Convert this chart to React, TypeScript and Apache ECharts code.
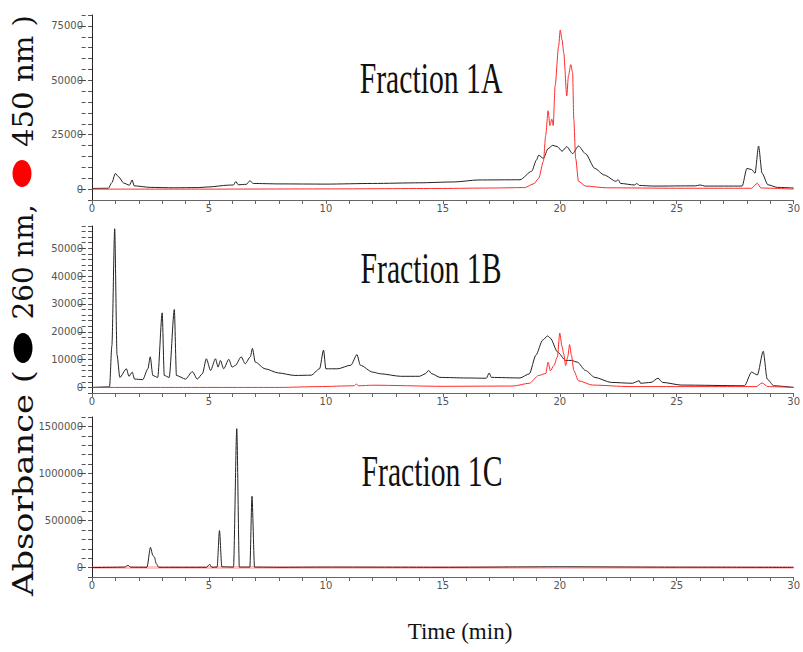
import React, { useEffect, useRef } from "react";
import * as echarts from "echarts";

// Time (min) vs absorbance readings, [time, value]
const a260: number[][] = [
  [0, 300], [0.7, 400], [0.85, 3000], [1.0, 7200], [1.15, 5500], [1.35, 2800], [1.6, 1800], [1.72, 4200], [1.8, 1500],
  [2.5, 800], [3.5, 600], [4.5, 700], [5.0, 1000], [5.8, 1800], [6.05, 1900], [6.15, 3500], [6.25, 2000], [6.6, 2200],
  [6.75, 3800], [6.9, 2600], [8, 2400], [10, 2300], [12, 2600], [14, 2900], [15.5, 3300], [16.5, 4200], [18.3, 4300],
  [18.8, 8200], [19.0, 13300], [19.1, 15600], [19.3, 14100], [19.5, 18600], [19.7, 20100], [19.9, 19500], [20.1, 17400],
  [20.3, 19500], [20.55, 16300], [20.8, 19800], [21.1, 16300], [21.5, 9500], [21.9, 6500], [22.4, 3600], [22.5, 4300],
  [22.6, 2600], [23.2, 1900], [23.3, 2600], [23.4, 1700], [24, 1400], [25.8, 1500], [26, 1900], [26.2, 1400], [27.8, 1400],
  [28.0, 9500], [28.2, 9000], [28.35, 7300], [28.5, 19800], [28.65, 7300], [28.9, 2000], [29.3, 800], [30, 500],
];
const a450: number[][] = [
  [0, 0], [5, 0], [10, 100], [15, 300], [17, 500], [18.5, 700], [18.9, 2500], [19.1, 5000], [19.3, 12700], [19.4, 24700],
  [19.5, 36000], [19.58, 29200], [19.66, 32200], [19.72, 29200], [19.8, 47300], [19.95, 65500], [20.02, 73100],
  [20.1, 68500], [20.17, 62600], [20.3, 42800], [20.37, 51900], [20.47, 57200], [20.55, 53500], [20.6, 32200],
  [20.68, 14100], [20.8, 3600], [21.1, 1400], [22, 600], [25, 400], [28.2, 400], [28.45, 2700], [28.6, 500], [30, 0],
];
const b260: number[][] = [
  [0, 0], [0.75, 200], [0.85, 15000], [0.97, 57000], [1.07, 11700], [1.19, 3600], [1.47, 6700], [1.58, 4000],
  [1.72, 5500], [1.82, 3000], [2.17, 2800], [2.39, 6700], [2.49, 11000], [2.6, 4300], [2.81, 3600], [3.0, 26800],
  [3.09, 4300], [3.3, 3600], [3.52, 28000], [3.61, 4300], [4.0, 3000], [4.29, 5700], [4.5, 3000], [4.72, 4900],
  [4.89, 10300], [5.07, 6100], [5.28, 10300], [5.39, 7300], [5.49, 9700], [5.63, 6700], [5.85, 10100], [5.99, 7300],
  [6.13, 7900], [6.38, 11000], [6.55, 8500], [6.77, 11000], [6.86, 14000], [6.98, 9100], [7.4, 6700], [7.97, 5200],
  [8.67, 4300], [9.37, 4400], [9.73, 6700], [9.9, 13400], [10.0, 6700], [10.5, 6700], [11.07, 8000], [11.33, 11800],
  [11.47, 8000], [12.0, 5500], [12.34, 4900], [13.2, 4000], [14.0, 4000], [14.25, 4900], [14.39, 6100], [14.53, 4900],
  [14.88, 3600], [16.0, 3400], [16.86, 3300], [16.98, 5200], [17.08, 3600], [18.3, 3400], [18.7, 4900], [18.98, 11600],
  [19.27, 17000], [19.48, 18500], [19.6, 17700], [19.9, 12800], [20.25, 9700], [20.5, 9700], [20.75, 9100], [21.1, 6100],
  [21.5, 3600], [22.2, 1800], [23.1, 1500], [23.4, 2400], [23.45, 1500], [23.9, 1800], [24.2, 3300], [24.4, 1800],
  [25.2, 850], [27.9, 600], [28.2, 5500], [28.45, 4500], [28.7, 13000], [28.87, 3000], [29.15, 600], [30, 0],
];
const b450: number[][] = [
  [0, 0], [8, 0], [9.7, 300], [11.2, 600], [11.3, 1200], [11.4, 600], [12, 800], [15, 400], [18, 500], [18.7, 1500],
  [19.1, 4300], [19.4, 5000], [19.5, 9100], [19.6, 6000], [19.75, 7900], [19.9, 11000], [20.0, 19500], [20.1, 14600],
  [20.17, 12000], [20.25, 7900], [20.34, 11000], [20.42, 15400], [20.5, 11600], [20.6, 6100], [20.8, 2400], [21.4, 850],
  [23, 300], [28.4, 300], [28.65, 1600], [28.9, 300], [30, 0],
];
const c260: number[][] = [
  [0, 0], [1.0, 3000], [1.4, 5000], [1.54, 25000], [1.65, 4000], [2.35, 3000], [2.5, 215000], [2.6, 130000],
  [2.67, 110000], [2.75, 40000], [2.85, 3000], [4.9, 3000], [5.03, 35000], [5.12, 3000], [5.35, 5000], [5.45, 393000],
  [5.55, 8000], [6.05, 5000], [6.19, 1476000], [6.3, 5000], [6.75, 5000], [6.84, 757000], [6.95, 5000], [8, 3000],
  [10, 5000], [15, 3000], [20, 8000], [25, 4000], [30, 2000],
];
const c450: number[][] = [[0, 0], [10, 0], [20, 0], [30, 0]];

const panelTitles = ["Fraction 1A", "Fraction 1B", "Fraction 1C"];
const yMajor = [
  [0, 25000, 50000, 75000],
  [0, 10000, 20000, 30000, 40000, 50000],
  [0, 500000, 1000000, 1500000],
];
const yMinorStep = [5000, 2000, 100000];
const yMin = [-5000, -2000, -100000];
const yMax = [80000, 58000, 1600000];

export default function App() {
  const ref = useRef<HTMLDivElement>(null);
  useEffect(() => {
    if (!ref.current) return;
    const chart = echarts.init(ref.current, null, { renderer: "svg" });
    const gridLeft = 92;
    const gridRight = 3;
    const gridWidth = 803 - gridLeft - gridRight;
    const grids = [
      { left: gridLeft, right: gridRight, top: 15, height: 185 },
      { left: gridLeft, right: gridRight, top: 226, height: 167 },
      { left: gridLeft, right: gridRight, top: 417, height: 160 },
    ];
    const xAxes = grids.map((_, i) => ({
      type: "value",
      gridIndex: i,
      min: 0,
      max: 30,
      interval: 5,
      axisLine: { onZero: false, lineStyle: { color: "#666", width: 1 } },
      axisTick: { length: 4, lineStyle: { color: "#666" } },
      minorTick: { show: true, splitNumber: 5, length: 4, lineStyle: { color: "#666" } },
      splitLine: { show: false },
      axisLabel: { fontSize: 10, color: "#555", margin: 3, fontFamily: "DejaVu Sans" },
    }));
    const yAxes: any[] = [];
    const yPerGrid = 3;
    grids.forEach((_, i) => {
      const majors = yMajor[i];
      const minors: number[] = [];
      for (let v = 0; v <= yMax[i]; v += yMinorStep[i]) minors.push(v);
      // main axis: line, labels, minor ticks
      yAxes.push({
        type: "value",
        gridIndex: i,
        min: yMin[i],
        max: yMax[i],
        interval: yMinorStep[i],
        position: "left",
        axisLine: { show: true, onZero: false, lineStyle: { color: "#222", width: 1 } },
        axisTick: { show: true, length: 4, lineStyle: { color: "#555", width: 1 } },
        axisLabel: {
          formatter: (v: number) => (majors.indexOf(v) >= 0 ? String(v) : ""),
          fontSize: 10,
          color: "#555",
          margin: 9,
          fontFamily: "DejaVu Sans",
        },
        splitLine: { show: false },
      });
      // overlay axis: minor ticks on the left edge
      yAxes.push({
        type: "value",
        gridIndex: i,
        min: yMin[i],
        max: yMax[i],
        position: "right",
        offset: -gridWidth,
        axisLine: { show: false, onZero: false },
        axisTick: { show: true, inside: true, length: 4, customValues: minors, lineStyle: { color: "#555", width: 1 } },
        axisLabel: { show: false },
        splitLine: { show: false },
      });
      // overlay axis: longer major ticks on the left edge
      yAxes.push({
        type: "value",
        gridIndex: i,
        min: yMin[i],
        max: yMax[i],
        position: "right",
        offset: -gridWidth,
        axisLine: { show: false, onZero: false },
        axisTick: { show: true, inside: true, length: 7, customValues: majors, lineStyle: { color: "#444" } },
        axisLabel: { show: false },
        splitLine: { show: false },
      });
    });
    const black = { color: "#222", width: 1 };
    const red = { color: "#ff2a2a", width: 1 };
    const mk = (data: number[][], idx: number, style: any, z: number) => ({
      type: "line",
      xAxisIndex: idx,
      yAxisIndex: idx * yPerGrid,
      data,
      showSymbol: false,
      symbol: "none",
      smooth: 0.25,
      smoothMonotone: "x",
      lineStyle: style,
      z,
    });
    const titleText = (t: string, x: number, y: number) => ({
      type: "text",
      x,
      y,
      scaleX: 0.66,
      style: {
        text: t,
        font: '45px "Liberation Serif"',
        fill: "#111",
        textAlign: "center",
        textVerticalAlign: "middle",
        align: "center",
        verticalAlign: "middle",
      },
    });
    const vText = (t: string, y: number, sx: number) => ({
      type: "text",
      x: 24,
      y,
      rotation: Math.PI / 2,
      scaleX: sx,
      style: {
        text: t,
        font: '27px "DejaVu Serif"',
        fill: "#111",
        textAlign: "center",
        textVerticalAlign: "middle",
        align: "center",
        verticalAlign: "middle",
      },
    });
    chart.setOption({
      animation: false,
      grid: grids,
      xAxis: xAxes,
      yAxis: yAxes,
      series: [
        mk(a260, 0, black, 2),
        mk(a450, 0, red, 3),
        mk(b260, 1, black, 2),
        mk(b450, 1, red, 3),
        mk(c450, 2, { color: "rgba(255,90,90,0.35)", width: 3 }, 2),
        mk(c260, 2, black, 3),
      ],
      graphic: [
        titleText(panelTitles[0], 431, 78),
        titleText(panelTitles[1], 431, 268),
        titleText(panelTitles[2], 432, 471),
        {
          type: "text",
          x: 460,
          y: 631,
          style: {
            text: "Time (min)",
            font: '23px "Liberation Serif"',
            fill: "#111",
            textAlign: "center",
            textVerticalAlign: "middle",
            align: "center",
            verticalAlign: "middle",
          },
        },
        vText("Absorbance (", 483, 1.25),
        { type: "ellipse", shape: { cx: 23, cy: 348, rx: 9.5, ry: 15 }, style: { fill: "#000" } },
        vText("260 nm,", 262, 1.03),
        { type: "ellipse", shape: { cx: 22, cy: 173.5, rx: 9.5, ry: 13.5 }, style: { fill: "#ff0000" } },
        vText("450 nm )", 81, 1.08),
      ],
    });
    return () => chart.dispose();
  }, []);
  return <div ref={ref} style={{ position: "absolute", left: 0, top: 0, width: 803, height: 652 }} />;
}
